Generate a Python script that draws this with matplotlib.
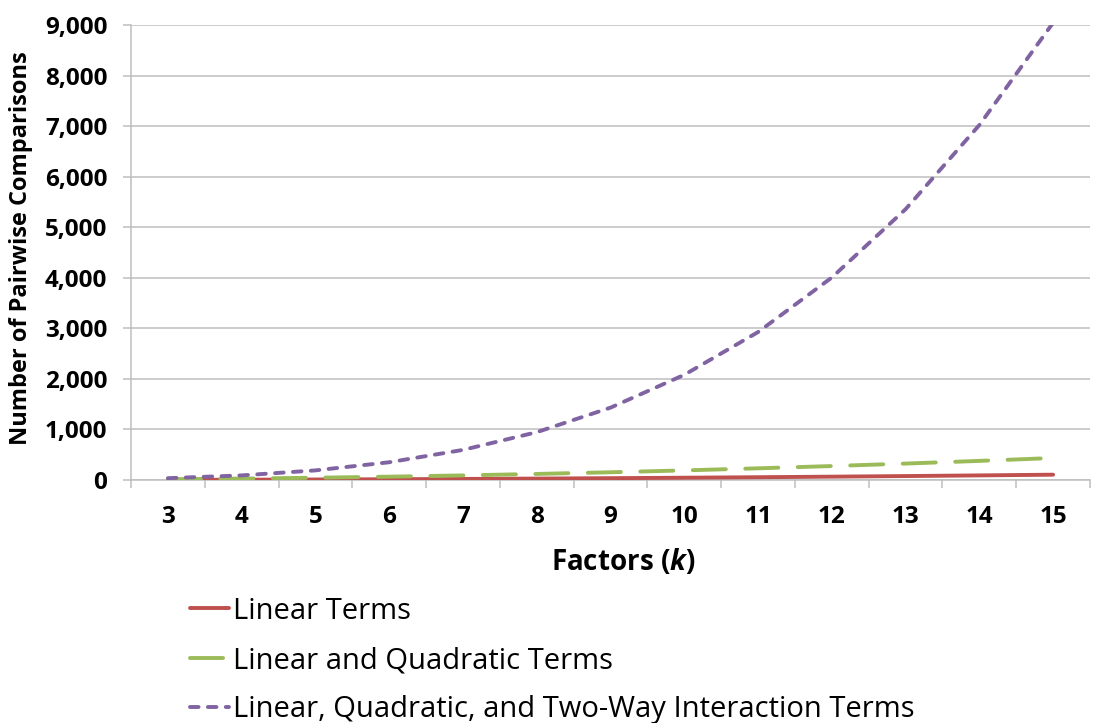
import matplotlib
matplotlib.use("Agg")
import numpy as np
from matplotlib import pyplot as plt
from matplotlib.ticker import FuncFormatter, FixedLocator

# factors k and number of pairwise comparisons
factors = [3, 4, 5, 6, 7, 8, 9, 10, 11, 12, 13, 14, 15]
linear_terms = [3, 6, 10, 15, 21, 28, 36, 45, 55, 66, 78, 91, 105]
linear_quad = [15, 28, 45, 66, 91, 120, 153, 190, 231, 276, 325, 378, 435]
linear_quad_inter = [36, 91, 190, 351, 595, 946, 1431, 2080, 2926, 4005, 5356, 7021, 9045]

plt.rcParams['font.family'] = ['Open Sans', 'DejaVu Sans']
plt.rcParams['mathtext.fontset'] = 'custom'
plt.rcParams['mathtext.bfit'] = 'Open Sans:italic:bold'
plt.rcParams['mathtext.it'] = 'Open Sans:italic'

fig = plt.figure(figsize=(11.09, 7.23), dpi=100)
ax = fig.add_axes([131 / 1109, 1 - 480 / 723, (1090 - 131) / 1109, (480 - 25) / 723])

x = np.arange(len(factors))
ax.plot(x, linear_terms, color='#C0504D', lw=2.8, solid_capstyle='round',
        label='Linear Terms', zorder=3)
ax.plot(x, linear_quad, color='#9BBB59', lw=2.8, dashes=(8.5, 5), dash_capstyle='round',
        label='Linear and Quadratic Terms', zorder=3)
ax.plot(x, linear_quad_inter, color='#8064A2', lw=2.8, dashes=(2.2, 2.4), dash_capstyle='round',
        label='Linear, Quadratic, and Two-Way Interaction Terms', zorder=3)

ax.set_xlim(-0.5, len(factors) - 0.5)
ax.set_ylim(0, 9000)
ax.set_yticks(range(0, 9001, 1000))
ax.yaxis.set_major_formatter(FuncFormatter(lambda v, p: f'{int(v):,}'))
ax.yaxis.grid(True, color='#BEBEBE', lw=1.1)
ax.set_axisbelow(True)

ax.set_xticks(x)
ax.set_xticklabels([str(f) for f in factors])
ax.xaxis.set_minor_locator(FixedLocator(np.arange(-0.5, len(factors), 1.0)))
ax.tick_params(axis='x', which='major', length=0, pad=18)
ax.tick_params(axis='x', which='minor', length=6, color='#BEBEBE', width=1.1)
ax.tick_params(axis='y', length=6, color='#BEBEBE', width=1.1, pad=11)
for lab in ax.get_xticklabels() + ax.get_yticklabels():
    lab.set_fontsize(17.5)
    lab.set_fontweight('bold')

for s in ['top', 'right']:
    ax.spines[s].set_visible(False)
for s in ['left', 'bottom']:
    ax.spines[s].set_color('#BEBEBE')
    ax.spines[s].set_linewidth(1.1)

ax.set_ylabel('Number of Pairwise Comparisons', fontsize=17, fontweight='bold')
ax.yaxis.set_label_coords((21 - 131) / 959, 0.51)
ax.yaxis.label.set_va('center')
ax.set_xlabel(r'Factors ($\mathbfit{k}$)', fontsize=20, fontweight='bold')
ax.xaxis.set_label_coords((623 - 131) / 959, (480 - 562) / 455)
ax.xaxis.label.set_va('center')

leg = fig.legend(loc='upper left', bbox_to_anchor=(178 / 1109, 1 - 585 / 723),
                 frameon=False, fontsize=21, handlelength=1.35, handletextpad=0.12,
                 labelspacing=0.7, borderaxespad=0)

plt.savefig('out.png', dpi=100)
